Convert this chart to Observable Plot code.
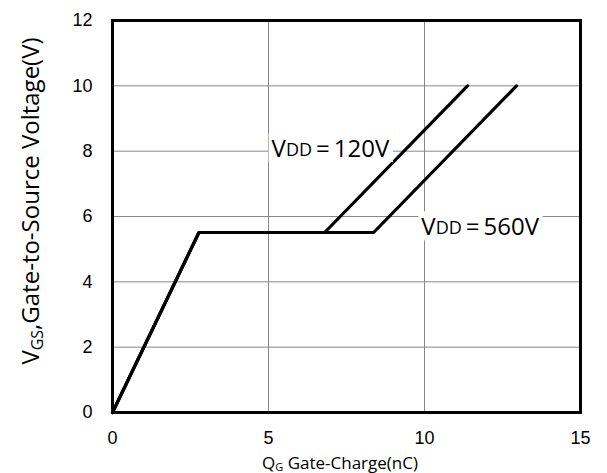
<!DOCTYPE html>
<html><head><meta charset="utf-8">
<script src="https://cdn.jsdelivr.net/npm/d3@7"></script>
<script src="https://cdn.jsdelivr.net/npm/@observablehq/plot@0.6"></script>
<style>body{margin:0;background:#fff}</style>
</head><body><div id="chart"></div>
<script>
const xTicks = [0, 5, 10, 15];
const yTicks = [0, 2, 4, 6, 8, 10, 12];
const qg120 = [0, 2.77, 6.8, 11.38];
const vgs120 = [0, 5.51, 5.51, 10];
const qg560 = [0, 2.77, 8.37, 12.95];
const vgs560 = [0, 5.51, 5.51, 10];
const labels = [
  {name: "120V", x: 7.0, y: 8.0},
  {name: "560V", x: 11.8, y: 5.6}
];

const rows = [];
qg120.forEach((q, i) => rows.push({series: "120V", q, v: vgs120[i]}));
qg560.forEach((q, i) => rows.push({series: "560V", q, v: vgs560[i]}));

const plot = Plot.plot({
  width: 607, height: 473,
  marginLeft: 112, marginRight: 27, marginTop: 20, marginBottom: 61,
  style: {fontFamily: "Liberation Sans, Arial, sans-serif", fontSize: "18px", background: "#fff", color: "#000"},
  x: {domain: [0, 15], ticks: xTicks, label: null},
  y: {domain: [0, 12], ticks: yTicks, label: null},
  marks: [
    Plot.ruleX(xTicks.slice(1, -1), {stroke: "#888", strokeWidth: 1}),
    Plot.ruleY(yTicks.slice(1, -1), {stroke: "#888", strokeWidth: 1}),
    Plot.axisX({ticks: xTicks, tickSize: 0, tickPadding: 19, fontSize: 18, label: null}),
    Plot.axisY({ticks: yTicks, tickSize: 0, tickPadding: 20, fontSize: 18, label: null}),
    Plot.line(rows, {x: "q", y: "v", z: "series", stroke: "#000", strokeWidth: 3.2, strokeLinejoin: "miter"}),
    Plot.frame({stroke: "#000", strokeWidth: 3})
  ]
});
document.getElementById("chart").appendChild(plot);

const svg = d3.select(plot);
const sx = plot.scale("x"), sy = plot.scale("y");
const lblFont = "Open Sans, Noto Sans, sans-serif";

labels.forEach(l => {
  const g = svg.append("g");
  const t = g.append("text")
    .attr("x", sx.apply(l.x)).attr("y", sy.apply(l.y))
    .attr("text-anchor", "middle").attr("dominant-baseline", "middle")
    .attr("font-family", lblFont).attr("font-size", 24).attr("fill", "#000");
  t.append("tspan").text("V");
  t.append("tspan").attr("font-size", 18).text("DD");
  t.append("tspan").text("\u2009=\u2009" + l.name);
  const bb = t.node().getBBox();
  g.insert("rect", "text").attr("x", bb.x - 3).attr("y", bb.y + 2)
    .attr("width", bb.width + 6).attr("height", bb.height - 4).attr("fill", "#fff");
});

// y axis title
const yt = svg.append("text")
  .attr("transform", "translate(39,201) rotate(-90)")
  .attr("text-anchor", "middle")
  .attr("font-family", lblFont).attr("font-size", 24).attr("fill", "#000");
yt.append("tspan").text("V");
yt.append("tspan").attr("font-size", 16).attr("dy", 4).text("GS");
yt.append("tspan").attr("dy", -4).text(",Gate-to-Source Voltage(V)");

// x axis title
const xt = svg.append("text")
  .attr("x", 340).attr("y", 469)
  .attr("text-anchor", "middle")
  .attr("font-family", lblFont).attr("font-size", 17).attr("fill", "#000");
xt.append("tspan").text("Q");
xt.append("tspan").attr("font-size", 11).attr("dy", 2).text("G");
xt.append("tspan").attr("dy", -2).text(" Gate-Charge(nC)");
</script></body></html>
